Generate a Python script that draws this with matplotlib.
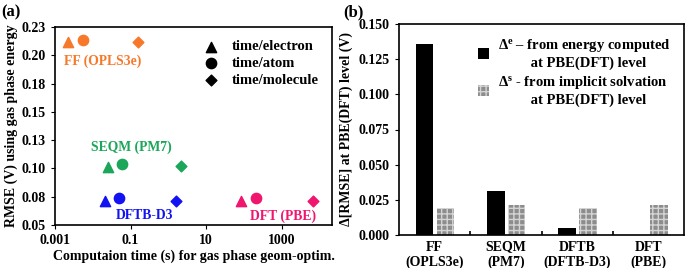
import matplotlib
matplotlib.use('Agg')
import matplotlib.pyplot as plt
import numpy as np

plt.rcParams['font.family'] = ['Liberation Serif', 'DejaVu Serif']
plt.rcParams['font.weight'] = 'bold'
plt.rcParams['mathtext.fontset'] = 'custom'
plt.rcParams['mathtext.rm'] = 'Liberation Serif:bold'
plt.rcParams['mathtext.it'] = 'Liberation Serif:bold'
plt.rcParams['mathtext.bf'] = 'Liberation Serif:bold'
plt.rcParams['hatch.linewidth'] = 1.0

# (a) данные: время (с) и RMSE (В) для каждого метода
methods = ['FF (OPLS3e)', 'SEQM (PM7)', 'DFTB-D3', 'DFT (PBE)']
colors = ['#F7782A', '#1BA659', '#1212F2', '#F0166E']
t_electron = [0.0022, 0.026, 0.021, 86]
t_atom = [0.0056, 0.061, 0.048, 204]
t_molecule = [0.16, 2.1, 1.58, 6700]
rmse_electron = [0.2115, 0.1015, 0.0715, 0.0715]
rmse_atom = [0.2135, 0.1035, 0.0735, 0.0735]
rmse_molecule = [0.2115, 0.1020, 0.0710, 0.0710]

# (b) данные
cats = ['FF\n(OPLS3e)', 'SEQM\n(PM7)', 'DFTB\n(DFTB-D3)', 'DFT\n(PBE)']
delta_e = [0.136, 0.031, 0.005, 0.0]
delta_s = [0.019, 0.021, 0.019, 0.021]

fig = plt.figure(figsize=(6.85, 2.68), dpi=100)
ax1 = fig.add_axes([55/685, 1-225/268, 277/685, 198/268])
ax2 = fig.add_axes([399/685, 1-235/268, 285/685, 211/268])

# панель (a)
for i in range(4):
    ax1.scatter(t_electron[i], rmse_electron[i], marker='^', s=55, color=colors[i], zorder=3)
    ax1.scatter(t_atom[i], rmse_atom[i], marker='o', s=55, color=colors[i], zorder=3)
    ax1.scatter(t_molecule[i], rmse_molecule[i], marker='D', s=30, color=colors[i], zorder=3)

ax1.set_xscale('log')
ax1.set_xlim(0.001, 21500)
ax1.set_ylim(0.05, 0.225)
ax1.set_xticks([0.001, 0.1, 10, 1000])
ax1.set_xticklabels(['0.001', '0.1', '10', '1000'])
ax1.xaxis.set_minor_locator(matplotlib.ticker.NullLocator())
ax1.set_yticks(np.arange(0.05, 0.2251, 0.025))
ax1.set_yticklabels(['0.05', '0.08', '0.10', '0.13', '0.15', '0.18', '0.20', '0.23'])
ax1.tick_params(labelsize=10, length=3, direction='out')
for sp in ax1.spines.values():
    sp.set_linewidth(1.2)

ax1.text(0.0017, 0.195, methods[0], color=colors[0], fontsize=9.8, fontweight='bold', va='center')
ax1.text(0.107, 0.119, methods[1], color=colors[1], fontsize=9.8, fontweight='bold', va='center', ha='center')
ax1.text(0.235, 0.058, methods[2], color=colors[2], fontsize=9.8, fontweight='bold', va='center', ha='center')
ax1.text(1070, 0.058, methods[3], color=colors[3], fontsize=9.8, fontweight='bold', va='center', ha='center')

h1 = ax1.scatter([], [], marker='^', s=55, color='black', label='time/electron')
h2 = ax1.scatter([], [], marker='o', s=55, color='black', label='time/atom')
h3 = ax1.scatter([], [], marker='D', s=30, color='black', label='time/molecule')
ax1.legend(handles=[h1, h2, h3], loc='upper right', frameon=False, fontsize=10.5,
           handletextpad=0.4, labelspacing=0.25, borderaxespad=0.5)

ax1.set_xlabel('Computaion time (s) for gas phase geom-optim.', fontsize=10, fontweight='bold', labelpad=2)
ax1.set_ylabel('RMSE (V) using gas phase energy', fontsize=10, fontweight='bold', labelpad=3)
fig.text(0.002, 0.985, '(a)', fontsize=12, fontweight='bold', va='top')

# панель (b)
x = np.arange(len(cats))
w = 0.245
ax2.bar(x - 0.14, delta_e, w, color='black',
        label='$\\Delta^{e}$ \u2013 from energy computed\n         at PBE(DFT) level')
ax2.bar(x + 0.15, delta_s, w, color='#8d8d8d', hatch='+++', edgecolor='#d4d4d4', linewidth=0,
        label='$\\Delta^{s}$ - from implicit solvation\n         at PBE(DFT) level')
ax2.set_xlim(-0.5, 3.5)
ax2.set_ylim(0, 0.150)
ax2.set_yticks(np.arange(0, 0.1501, 0.025))
ax2.set_yticklabels(['%.3f' % v for v in np.arange(0, 0.1501, 0.025)])
ax2.set_xticks(x)
ax2.set_xticklabels(cats, fontsize=10)
ax2.tick_params(axis='x', length=0, pad=4)
ax2.set_xticks([0.5, 1.5, 2.5], minor=True)
ax2.tick_params(axis='x', which='minor', direction='in', length=3, width=1.2)
ax2.tick_params(axis='y', labelsize=10, length=3)
for sp in ax2.spines.values():
    sp.set_linewidth(1.2)
ax2.legend(loc='upper right', frameon=False, fontsize=10.5, handlelength=0.8,
           handleheight=0.8, handletextpad=0.6, labelspacing=0.3, borderaxespad=0.5)
ax2.set_ylabel('\u0394[RMSE] at PBE(DFT) level (V)', fontsize=10, fontweight='bold', labelpad=4)
fig.text(343/685, 0.985, '(b)', fontsize=12, fontweight='bold', va='top')

fig.savefig('out.png', dpi=100)
